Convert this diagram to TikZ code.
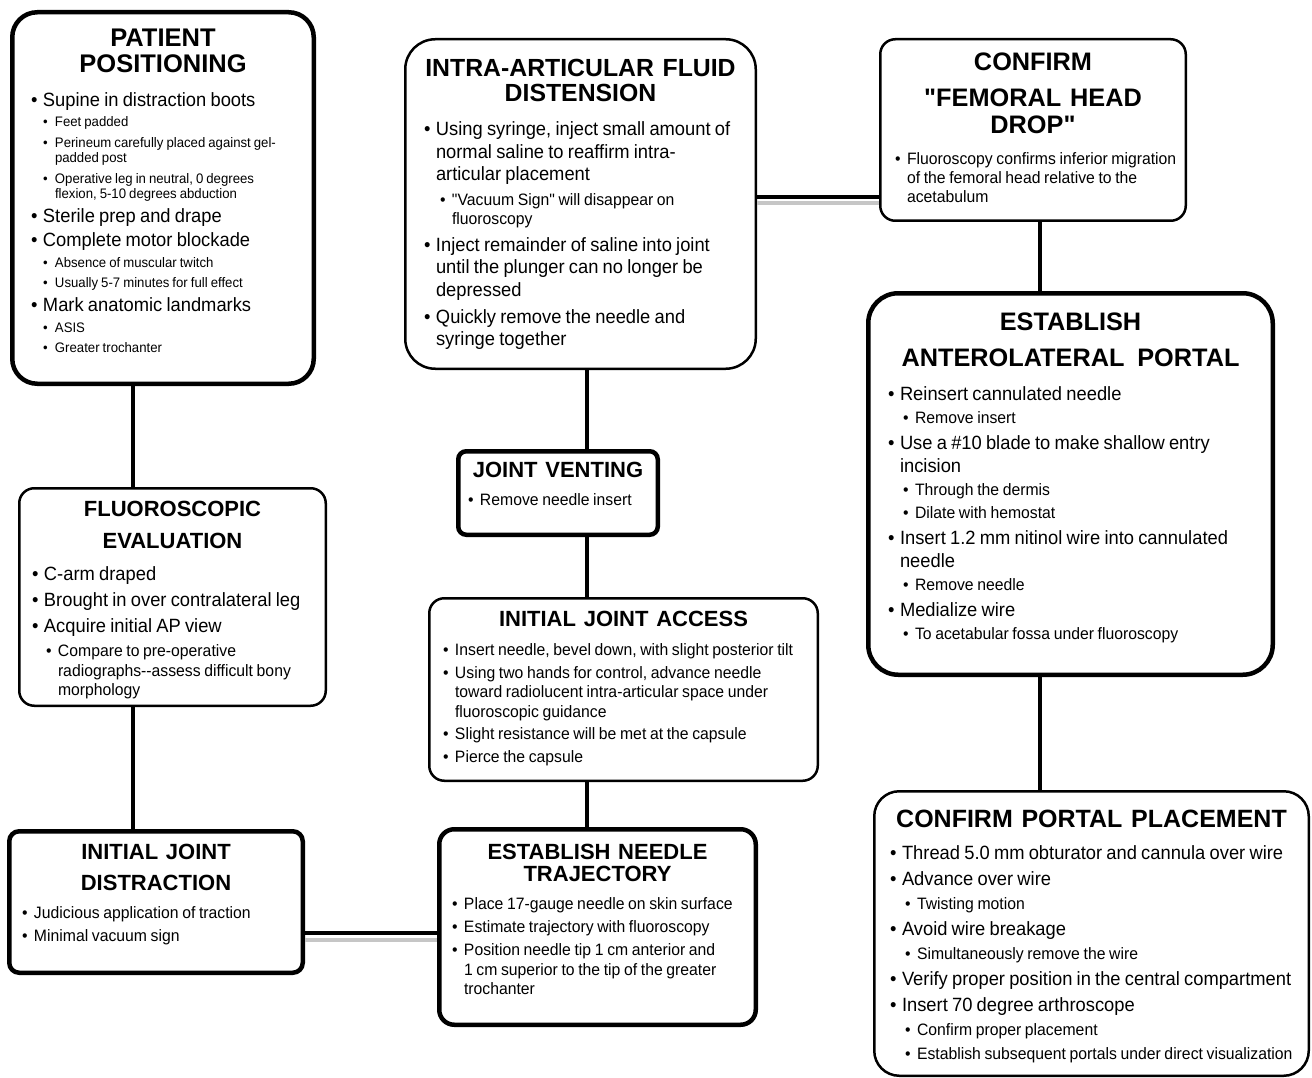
\documentclass[tikz,border=0pt]{standalone}
\usepackage{fontspec}
\setmainfont{Liberation Sans}
\newfontfamily\bodyfont[FakeStretch=0.955]{Liberation Sans}
\usetikzlibrary{calc}

\newcommand{\bgap}{3pt}
\newcommand{\mgap}{3pt}
\newcommand{\sgap}{5pt}
\newcommand{\bbls}{22.5}
\newcommand{\mbls}{19.5}
\newcommand{\sbls}{15.5}
\newcommand{\ttl}[3]{{\centering\bfseries\fontsize{#1}{#2}\selectfont\spaceskip=0.35em
  \leftskip=-30pt plus 1fil\rightskip=-30pt plus 1fil\parfillskip=0pt #3\par}}
\newcommand{\bitem}[2][0pt]{\vspace{\bgap}{\bodyfont\fontsize{19.2}{\bbls}\selectfont\spaceskip=0.22em
  \leftskip=#1\rightskip=-40pt plus 1fil\hangindent=12pt\hangafter=1
  \noindent\makebox[12pt][l]{\textbullet}#2\par}}
\newcommand{\mitem}[2][0pt]{\vspace{\mgap}{\bodyfont\fontsize{16.5}{\mbls}\selectfont\spaceskip=0.22em
  \leftskip=#1\rightskip=-40pt plus 1fil\hangindent=12pt\hangafter=1
  \noindent\makebox[12pt][l]{\textbullet}#2\par}}
\newcommand{\sitem}[2][0pt]{\vspace{\sgap}{\bodyfont\fontsize{13.8}{\sbls}\selectfont\spaceskip=0.22em
  \leftskip=#1\rightskip=-40pt plus 1fil\hangindent=12pt\hangafter=1
  \noindent\makebox[12pt][l]{\textbullet}#2\par}}

\begin{document}
\begin{tikzpicture}[x=1pt, y=-1pt]
            \tikzstyle{thickbox} = [draw, line width=4.5pt, fill=white, inner sep=0pt]
            \tikzstyle{thinbox} = [draw, line width=2.5pt, fill=white, inner sep=0pt]
            \tikzstyle{boxtext} = [anchor=north west, inner sep=0pt, outer sep=0pt]
            \tikzstyle{link} = [line width=4pt]
            \tikzstyle{linkshadow} = [line width=4pt, gray!45]
            \useasboundingbox (0, 0) rectangle (1312, 1078);

            \node[thickbox, rounded corners=25pt, minimum width=301.5pt, minimum height=371.5pt] (pos) at (163, 198) {};
            \node[thinbox, rounded corners=30pt, minimum width=350.5pt, minimum height=329.5pt] (distension) at (580.5, 204) {};
            \node[thinbox, rounded corners=15pt, minimum width=305.5pt, minimum height=181.5pt] (drop) at (1033, 130) {};
            \node[thickbox, rounded corners=30pt, minimum width=404.5pt, minimum height=381.5pt] (portal) at (1070.5, 484) {};
            \node[thinbox, rounded corners=15pt, minimum width=306.5pt, minimum height=217.5pt] (fluoro) at (172.5, 597) {};
            \node[thickbox, rounded corners=8pt, minimum width=199.5pt, minimum height=83.5pt] (venting) at (558, 493) {};
            \node[thinbox, rounded corners=15pt, minimum width=388.5pt, minimum height=182.5pt] (access) at (623.5, 689.5) {};
            \node[thickbox, rounded corners=10pt, minimum width=293.5pt, minimum height=141.5pt] (distract) at (156, 902) {};
            \node[thickbox, rounded corners=15pt, minimum width=316.5pt, minimum height=195.5pt] (traj) at (597.5, 927) {};
            \node[thinbox, rounded corners=25pt, minimum width=434.5pt, minimum height=284.5pt] (confirm) at (1091.5, 933.5) {};

            \draw[link] ([xshift=-30pt]pos.south) -- ([xshift=-39.5pt]fluoro.north);
            \draw[link] ([xshift=-39.5pt]fluoro.south) -- ([xshift=-23pt]distract.north);
            \draw[linkshadow] ([yshift=-38pt]distract.east) -- ([yshift=-13pt]traj.west);
            \draw[link] ([yshift=-31pt]distract.east) -- ([yshift=-6pt]traj.west);
            \draw[link] ([xshift=-10.5pt]traj.north) -- ([xshift=-36.5pt]access.south);
            \draw[link] ([xshift=-36.5pt]access.north) -- ([xshift=29pt]venting.south);
            \draw[link] ([xshift=29pt]venting.north) -- ([xshift=6.5pt]distension.south);
            \draw[linkshadow] ([yshift=1pt]distension.east) -- ([yshift=-73pt]drop.west);
            \draw[link] ([yshift=7pt]distension.east) -- ([yshift=-67pt]drop.west);
            \draw[link] ([xshift=7pt]drop.south) -- ([xshift=-30.5pt]portal.north);
            \draw[link] ([xshift=-30.5pt]portal.south) -- ([xshift=-51.5pt]confirm.north);

            \node[boxtext, text width=264pt] (posText) at (31, 28.5) {%
              \renewcommand{\bgap}{1.5pt}\renewcommand{\sgap}{5pt}%
              \ttl{25.5}{26}{PATIENT\\POSITIONING}
              \vspace{10.25pt}
              \bitem{Supine in distraction boots}
              \sitem[12pt]{Feet padded}
              \sitem[12pt]{Perineum carefully placed against gel-\newline padded post}
              \sitem[12pt]{Operative leg in neutral, 0 degrees\newline flexion, 5-10 degrees abduction}
              \bitem{Sterile prep and drape}
              \bitem{Complete motor blockade}
              \sitem[12pt]{Absence of muscular twitch}
              \sitem[12pt]{Usually 5-7 minutes for full effect}
              \bitem{Mark anatomic landmarks}
              \sitem[12pt]{ASIS}
              \sitem[12pt]{Greater trochanter}};
            \node[boxtext, text width=313pt] (distensionText) at (424, 59) {%
              \renewcommand{\bgap}{4.5pt}\renewcommand{\mgap}{6.5pt}\renewcommand{\mbls}{18.5}%
              \ttl{24.8}{25}{INTRA-ARTICULAR FLUID\\DISTENSION}
              \vspace{7.25pt}
              \bitem{Using syringe, inject small amount of\newline normal saline to reaffirm intra-\newline articular placement}
              \mitem[16pt]{"Vacuum Sign" will disappear on\newline fluoroscopy}
              \bitem{Inject remainder of saline into joint\newline until the plunger can no longer be\newline depressed}
              \bitem{Quickly remove the needle and\newline syringe together}};
            \node[boxtext, text width=276pt] (dropText) at (895, 52.7) {%
              \renewcommand{\mgap}{0pt}\renewcommand{\mbls}{19}%
              \ttl{25.3}{27}{CONFIRM\\[9pt]\textquotedbl FEMORAL HEAD\\DROP\textquotedbl}
              \vspace{12.25pt}
              \mitem{Fluoroscopy confirms inferior migration\newline of the femoral head relative to the\newline acetabulum}};
            \node[boxtext, text width=365pt] (portalText) at (888, 312.7) {%
              \renewcommand{\bgap}{3pt}\renewcommand{\bbls}{23}\renewcommand{\mgap}{3pt}\renewcommand{\mbls}{20}%
              \ttl{25.3}{36}{ESTABLISH\\ANTEROLATERAL\hspace{4pt} PORTAL}
              \vspace{8.25pt}
              \bitem{Reinsert cannulated needle}
              \mitem[15pt]{Remove insert}
              \bitem{Use a \#10 blade to make shallow entry\newline incision}
              \mitem[15pt]{Through the dermis}
              \mitem[15pt]{Dilate with hemostat}
              \bitem{Insert 1.2 mm nitinol wire into cannulated\newline needle}
              \mitem[15pt]{Remove needle}
              \bitem{Medialize wire}
              \mitem[15pt]{To acetabular fossa under fluoroscopy}};
            \node[boxtext, text width=281pt] (fluoroText) at (32, 501) {%
              \renewcommand{\bgap}{3.5pt}\renewcommand{\mgap}{4.5pt}%
              \ttl{22}{32}{FLUOROSCOPIC\\EVALUATION}
              \vspace{6.2pt}
              \bitem{C-arm draped}
              \bitem{Brought in over contralateral leg}
              \bitem{Acquire initial AP view}
              \mitem[14pt]{Compare to pre-operative\newline radiographs-{}-assess difficult bony\newline morphology}};
            \node[boxtext, text width=180pt] (ventingText) at (468, 462) {%
              \renewcommand{\mgap}{0pt}%
              \ttl{22}{26}{JOINT VENTING}
              \vspace{8.7pt}
              \mitem{Remove needle insert}};
            \node[boxtext, text width=361pt] (accessText) at (443, 611) {%
              \renewcommand{\mgap}{3pt}%
              \ttl{22}{26}{INITIAL JOINT ACCESS}
              \vspace{6.7pt}
              \mitem{Insert needle, bevel down, with slight posterior tilt}
              \mitem{Using two hands for control, advance needle\newline toward radiolucent intra-articular space under\newline fluoroscopic guidance}
              \mitem{Slight resistance will be met at the capsule}
              \mitem{Pierce the capsule}};
            \node[boxtext, text width=268pt] (distractText) at (22, 844) {%
              \renewcommand{\mgap}{3.5pt}%
              \ttl{22}{31}{INITIAL JOINT\\DISTRACTION}
              \vspace{5.2pt}
              \mitem{Judicious application of traction}
              \mitem{Minimal vacuum sign}};
            \node[boxtext, text width=291pt] (trajText) at (452, 844) {%
              \renewcommand{\mgap}{3.5pt}%
              \ttl{22}{22}{ESTABLISH NEEDLE\\TRAJECTORY}
              \vspace{5.2pt}
              \mitem{Place 17-gauge needle on skin surface}
              \mitem{Estimate trajectory with fluoroscopy}
              \mitem{Position needle tip 1 cm anterior and\newline 1 cm superior to the tip of the greater\newline trochanter}};
            \node[boxtext, text width=403pt] (confirmText) at (890, 810.1) {%
              \renewcommand{\bgap}{3.5pt}\renewcommand{\mgap}{4.5pt}%
              \ttl{25}{30}{CONFIRM PORTAL PLACEMENT}
              \vspace{6pt}
              \bitem{Thread 5.0 mm obturator and cannula over wire}
              \bitem{Advance over wire}
              \mitem[15pt]{Twisting motion}
              \bitem{Avoid wire breakage}
              \mitem[15pt]{Simultaneously remove the wire}
              \bitem{Verify proper position in the central compartment}
              \bitem{Insert 70 degree arthroscope}
              \mitem[15pt]{Confirm proper placement}
              \mitem[15pt]{Establish subsequent portals under direct visualization}};
        \end{tikzpicture}
\end{document}
